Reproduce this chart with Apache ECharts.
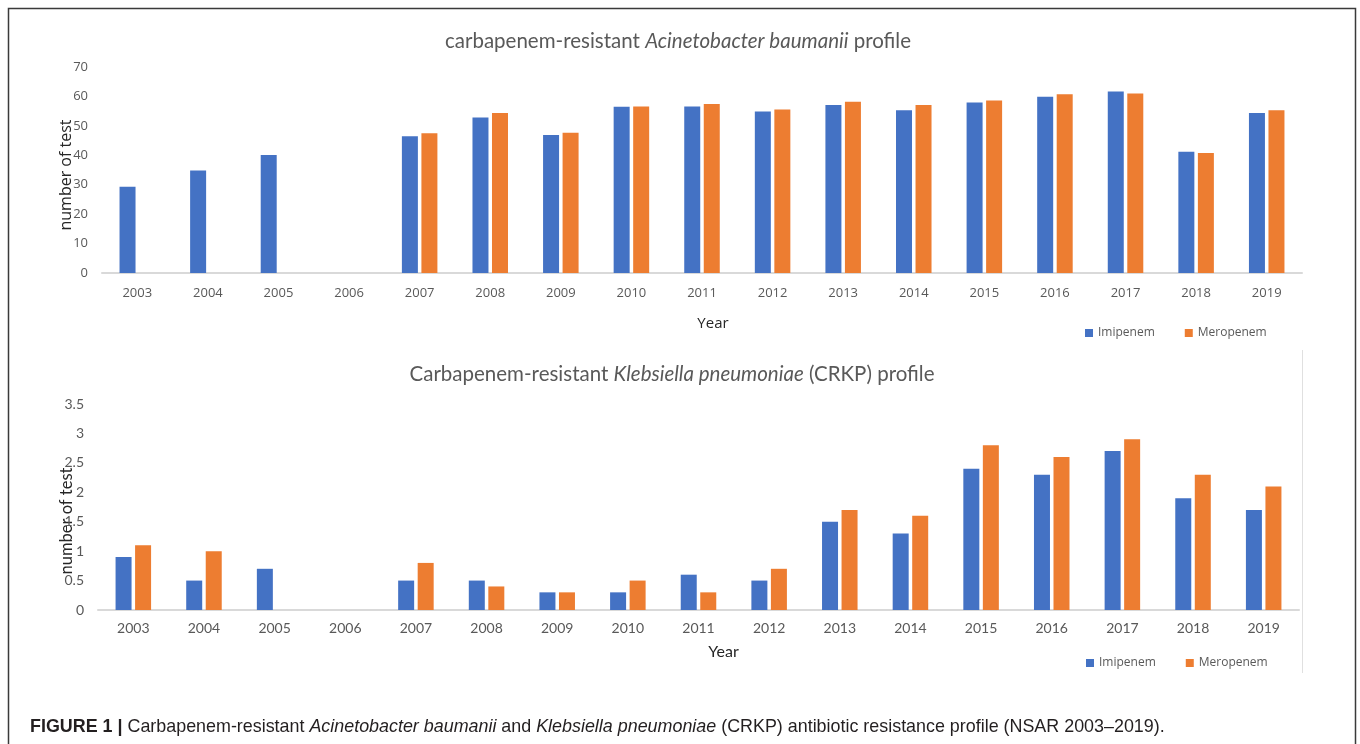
<!DOCTYPE html>
<html>
<head>
<meta charset="utf-8">
<script src="https://cdn.jsdelivr.net/npm/echarts@6/dist/echarts.min.js"></script>
<style>
html,body{margin:0;padding:0;background:#fff;}
#chart{width:1360px;height:744px;}
</style>
</head>
<body>
<div id="chart"></div>
<script>
const years = ['2003','2004','2005','2006','2007','2008','2009','2010','2011','2012','2013','2014','2015','2016','2017','2018','2019'];
// Top chart: carbapenem-resistant Acinetobacter baumanii
const acinetoImipenem  = [29.3, 34.8, 40.1, null, 46.5, 52.8, 46.9, 56.5, 56.6, 54.9, 57.1, 55.3, 57.9, 59.9, 61.7, 41.2, 54.4];
const acinetoMeropenem = [null, null, null, null, 47.5, 54.4, 47.7, 56.6, 57.4, 55.6, 58.2, 57.1, 58.6, 60.7, 61.0, 40.8, 55.3];
// Bottom chart: Klebsiella pneumoniae (CRKP)
const klebImipenem  = [0.9, 0.5, 0.7, null, 0.5, 0.5, 0.3, 0.3, 0.6, 0.5, 1.5, 1.3, 2.4, 2.3, 2.7, 1.9, 1.7];
const klebMeropenem = [1.1, 1.0, null, null, 0.8, 0.4, 0.3, 0.5, 0.3, 0.7, 1.7, 1.6, 2.8, 2.6, 2.9, 2.3, 2.1];
const seriesNames = ['Imipenem', 'Meropenem'];

const BLUE = '#4472C4', ORANGE = '#ED7D31', GREY = '#595959';

const chart = echarts.init(document.getElementById('chart'));

function titleRich(size){
  return {
    n: {fontFamily: 'Lato', fontSize: size, color: GREY, fontWeight: 'normal'},
    i: {fontFamily: 'Lato', fontSize: size, color: GREY, fontStyle: 'italic', fontWeight: 'normal'}
  };
}
const CAP_FONT = "'Liberation Sans'";

const option = {
  backgroundColor: '#fff',
  animation: false,
  color: [BLUE, ORANGE],
  title: [
    {
      text: '{n|carbapenem-resistant }{i|Acinetobacter baumanii}{n| profile}',
      left: 673, top: 26, textAlign: 'center',
      textStyle: {fontWeight: 'normal', rich: titleRich(20.5)}
    },
    {
      text: '{n|Carbapenem-resistant }{i|Klebsiella pneumoniae}{n| (CRKP) profile}',
      left: 667, top: 359, textAlign: 'center',
      textStyle: {fontWeight: 'normal', rich: titleRich(20.5)}
    },
    {
      text: '{b|FIGURE 1 | }{n|Carbapenem-resistant }{i|Acinetobacter baumanii}{n| and }{i|Klebsiella pneumoniae}{n| (CRKP) antibiotic resistance profile (NSAR 2003\u20132019).}',
      left: 25, top: 713,
      textStyle: {fontWeight: 'normal', rich: {
        b: {fontFamily: CAP_FONT, fontWeight: 'bold', fontSize: 17.9, color: '#231f20'},
        n: {fontFamily: CAP_FONT, fontWeight: 'normal', fontSize: 17.9, color: '#231f20'},
        i: {fontFamily: CAP_FONT, fontWeight: 'normal', fontSize: 17.9, color: '#231f20', fontStyle: 'italic'}
      }}
    }
  ],
  legend: [
    {
      data: seriesNames, left: 1080, top: 322, icon: 'rect', itemWidth: 8, itemHeight: 8, itemGap: 30,
      textStyle: {fontFamily: 'Open Sans', fontSize: 12, color: GREY},
      selectedMode: false
    },
    {
      data: seriesNames, left: 1081, top: 652, icon: 'rect', itemWidth: 8, itemHeight: 8, itemGap: 30,
      textStyle: {fontFamily: 'Open Sans', fontSize: 12, color: GREY},
      selectedMode: false
    }
  ],
  grid: [
    {left: 102, right: 58, top: 67, height: 206},
    {left: 98, right: 61, top: 404, height: 206}
  ],
  xAxis: [
    {
      type: 'category', data: years, gridIndex: 0,
      axisLine: {lineStyle: {color: '#d9d9d9', width: 2}},
      axisTick: {show: false},
      axisLabel: {fontFamily: 'Open Sans', fontSize: 13, color: GREY, margin: 14},
      name: 'Year', nameLocation: 'middle', nameGap: 43, nameMoveOverlap: false,
      nameTextStyle: {fontFamily: 'Open Sans', fontSize: 15, color: '#262626', padding: [0,0,0,22]}
    },
    {
      type: 'category', data: years, gridIndex: 1,
      axisLine: {lineStyle: {color: '#d9d9d9', width: 2}},
      axisTick: {show: false},
      axisLabel: {fontFamily: 'Lato', fontSize: 14, color: GREY, margin: 11},
      name: 'Year', nameLocation: 'middle', nameGap: 34, nameMoveOverlap: false,
      nameTextStyle: {fontFamily: 'Lato', fontSize: 16, color: '#262626', padding: [0,0,0,50]}
    }
  ],
  yAxis: [
    {
      type: 'value', gridIndex: 0, min: 0, max: 70, interval: 10,
      axisLine: {show: false}, axisTick: {show: false}, splitLine: {show: false},
      axisLabel: {fontFamily: 'Open Sans', fontSize: 13, color: GREY, margin: 14},
      name: 'number of test', nameLocation: 'middle', nameGap: 28, nameMoveOverlap: false,
      nameTextStyle: {fontFamily: 'Open Sans', fontSize: 16, color: '#262626', padding: [0,0,0,-10]}
    },
    {
      type: 'value', gridIndex: 1, min: 0, max: 3.5, interval: 0.5,
      axisLine: {show: false}, axisTick: {show: false}, splitLine: {show: false},
      axisLabel: {fontFamily: 'Lato', fontSize: 14, color: GREY, margin: 14},
      name: 'number of test', nameLocation: 'middle', nameGap: 23, nameMoveOverlap: false,
      nameTextStyle: {fontFamily: 'Lato', fontSize: 16.5, color: '#262626', padding: [0,0,0,-28]}
    }
  ],
  series: [
    {name: seriesNames[0], type: 'bar', xAxisIndex: 0, yAxisIndex: 0, data: acinetoImipenem, barWidth: 16, barGap: '22%', itemStyle: {color: BLUE}},
    {name: seriesNames[1], type: 'bar', xAxisIndex: 0, yAxisIndex: 0, data: acinetoMeropenem, barWidth: 16, barGap: '22%', itemStyle: {color: ORANGE}},
    {name: seriesNames[0], type: 'bar', xAxisIndex: 1, yAxisIndex: 1, data: klebImipenem, barWidth: 16, barGap: '22%', itemStyle: {color: BLUE}},
    {name: seriesNames[1], type: 'bar', xAxisIndex: 1, yAxisIndex: 1, data: klebMeropenem, barWidth: 16, barGap: '22%', itemStyle: {color: ORANGE}}
  ],
  graphic: [
    {type: 'polyline', silent: true, shape: {points: [[8.5, 744], [8.5, 8.5], [1355.5, 8.5], [1355.5, 744]]},
     style: {stroke: '#3a3a3a', lineWidth: 1.5, fill: null}},
    {type: 'line', silent: true, shape: {x1: 1302.5, y1: 350, x2: 1302.5, y2: 673},
     style: {stroke: '#e0e0e0', lineWidth: 1}}
  ]
};
chart.setOption(option);
</script>
</body>
</html>
